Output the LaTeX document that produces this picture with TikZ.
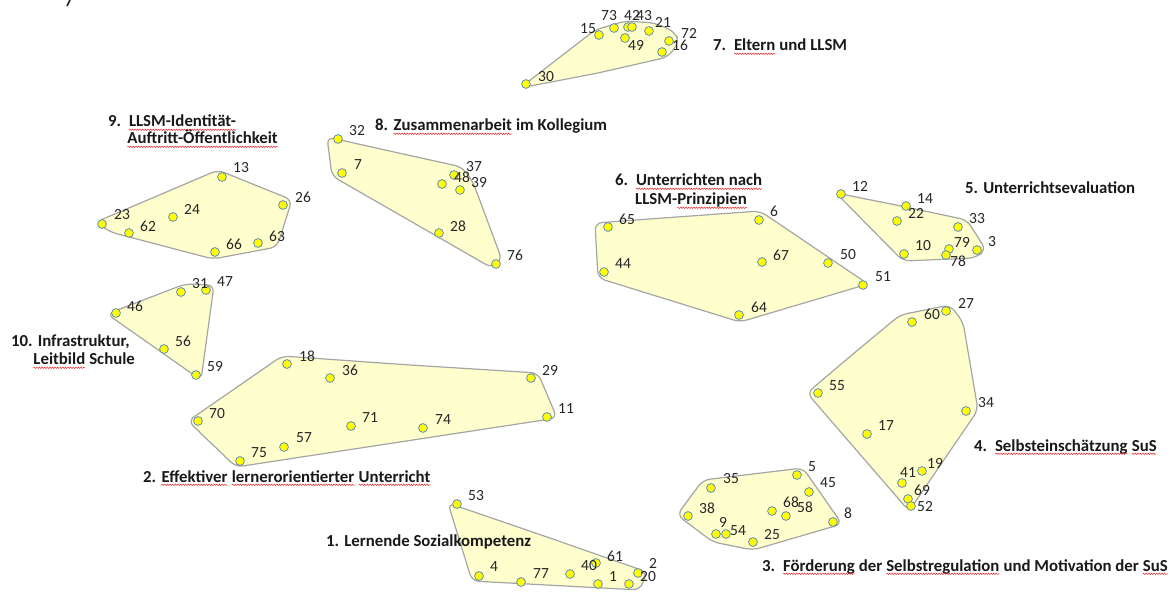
\documentclass[tikz,border=0pt]{standalone}
\usepackage{fontspec}
\setmainfont{Carlito}
\usetikzlibrary{decorations.pathmorphing}
\definecolor{hullfill}{RGB}{255,255,206}
\definecolor{hullline}{RGB}{165,165,165}
\definecolor{dotfill}{RGB}{255,255,0}
\definecolor{dotline}{RGB}{95,140,185}
\definecolor{spellred}{RGB}{230,40,40}
\newcommand\labfont{\fontsize{15.5}{18}\selectfont}
\newcommand\ttlfont{\fontsize{16.8}{19}\selectfont\bfseries}
\newcommand\wavy[1]{\tikz[baseline=(w.base)]{\node[inner sep=0pt,outer sep=0pt,anchor=base west] (w) at (0,0) {#1};\draw[spellred,line width=0.5pt,decorate,decoration={snake,amplitude=0.7pt,segment length=2.6pt}] ([yshift=-2.8pt]w.base west) -- ([yshift=-2.8pt]w.base east);}}
\tikzset{
  hull/.style={fill=hullfill,draw=hullline,line width=1.2pt,rounded corners=7pt},
  dot/.style={circle,inner sep=0pt,minimum size=8.8pt,fill=dotfill,draw=dotline,line width=0.8pt},
  lab/.style={inner sep=0pt,font=\labfont,text=black!85},
  ttl/.style={inner sep=0pt,anchor=base west,font=\ttlfont,text=black!90}
}
\begin{document}
\begin{tikzpicture}[x=1pt,y=-1pt]
\useasboundingbox (0,0) rectangle (1176,612);
% fragment at top-left
\draw[line width=1.6pt,black!85] (70,0) -- (67,6);
% hulls
\draw[hull] (598,73) -- (520,88) -- (595,30) -- (625,21) -- (655,23) -- (675,32) -- (679,42) -- (668,57) -- cycle;
\draw[hull] (157,196) -- (218,170) -- (292,200) -- (277,247) -- (213,259) -- (110,232) -- (96,222) -- cycle;
\draw[hull] (394,152) -- (462,167) -- (473,182) -- (502,260) -- (492,268) -- (332,176) -- (327,137) -- cycle;
\draw[hull] (677,217) -- (760,211) -- (868,284) -- (740,322) -- (598,278) -- (595,223) -- cycle;
\draw[hull] (901,206) -- (967,220) -- (986,250) -- (975,258) -- (903,261) -- (836,193) -- cycle;
\draw[hull] (146,299) -- (185,284) -- (214,285) -- (201,380) -- (107,314) -- cycle;
\draw[hull] (410,365) -- (538,373) -- (557,418) -- (236,467) -- (188,421) -- (282,356) -- cycle;
\draw[hull] (853,354) -- (900,315) -- (950,305) -- (963,322) -- (978,410) -- (909,511) -- (807,393) -- cycle;
\draw[hull] (753,474) -- (803,468) -- (842,524) -- (753,550) -- (713,542) -- (677,515) -- (703,480) -- cycle;
\draw[hull] (547,537) -- (647,572) -- (640,590) -- (472,581) -- (448,503) -- cycle;
% dots
\foreach \n/\x/\y in {15/599/35,73/614/28,42/628/27,43/632/27,21/649/31,72/669/41,16/662/52,49/625/38,30/526/84,
 13/222/177,26/283/205,23/102/224,62/129/233,24/173/217,66/215/252,63/258/243,
 32/338/139,7/342/173,37/454/175,48/442/184,39/460/190,28/439/233,76/496/264,
 65/608/227,6/759/220,44/604/272,67/762/262,50/828/263,51/863/285,64/739/315,
 12/841/194,14/906/206,22/897/221,33/958/227,10/904/254,79/949/249,78/946/255,3/977/250,
 31/181/292,47/206/290,46/116/313,56/164/349,59/196/375,
 18/287/364,36/330/378,29/531/378,11/547/417,70/198/421,71/351/426,74/423/428,57/284/447,75/240/461,
 27/946/311,60/912/322,55/818/393,34/966/411,17/867/434,19/922/471,41/902/483,69/908/499,52/911/506,
 5/797/475,35/711/488,45/809/492,38/688/516,68/772/511,58/786/516,8/833/522,9/716/534,54/726/534,25/753/542,
 53/457/504,4/479/576,77/521/582,40/570/574,61/596/563,1/598/584,2/638/573,20/629/584}
 {\node[dot] (d\n) at (\x,\y) {};}
% labels
\foreach \n/\x/\y in {15/588/29,73/609/16,42/632/15,43/644/16,21/663/22,72/689/33,16/680/45,49/636/45,30/546/77,
 13/241/168,26/303/197,23/122/215,62/148/226,24/192/209,66/234/244,63/277/236,
 32/357/131,7/358/165,37/474/167,48/462/177,39/479/183,28/458/226,76/515/255,
 65/627/219,6/774/211,44/623/264,67/781/255,50/848/255,51/883/277,64/759/307,
 12/860/186,14/925/199,22/916/213,33/977/219,10/923/246,79/962/242,78/958/261,3/992/242,
 31/200/284,47/225/282,46/135/306,56/183/341,59/215/367,
 18/307/356,36/350/370,29/550/370,11/566/409,70/217/414,71/370/418,74/443/420,57/304/438,75/259/453,
 27/966/303,60/932/314,55/837/386,34/986/403,17/886/426,19/935/463,41/908/473,69/922/490,52/925/507,
 5/812/467,35/731/479,45/828/483,38/707/508,68/791/502,58/805/507,8/848/513,9/723/522,54/738/531,25/772/535,
 53/476/496,4/494/567,77/541/574,40/589/566,61/615/556,1/613/577,2/653/563,20/648/577}
 {\node[lab] (l\n) at (\x,\y) {\n};}
% titles
\node[ttl] (t1) at (326,546) {1. Lernende Sozialkompetenz};
\node[ttl] (t2) at (143,482) {2. \wavy{Effektiver} \wavy{lernerorientierter} \wavy{Unterricht}};
\node[ttl] (t3) at (762,571) {3.\hspace{0.45em}\wavy{Förderung} der \wavy{Selbstregulation} und Motivation der \wavy{SuS}};
\node[ttl] (t4) at (974,451) {4.\hspace{0.45em}\wavy{Selbsteinschätzung} \wavy{SuS}};
\node[ttl] (t5) at (965,194) {5. Unterrichtsevaluation};
\node[ttl] (t6a) at (615,186) {6.\hspace{0.45em}\wavy{Unterrichten nach}};
\node[ttl] (t6b) at (635,205) {LLSM-\wavy{Prinzipien}};
\node[ttl] (t7) at (713,51) {7.\hspace{0.45em}\wavy{Eltern} und LLSM};
\node[ttl] (t8) at (375,131) {8. \wavy{Zusammenarbeit} im Kollegium};
\node[ttl] (t9a) at (108,127) {9.\hspace{0.45em}\wavy{LLSM-Identität-}};
\node[ttl] (t9b) at (127,144) {\wavy{Auftritt-Öffentlichkeit}};
\node[ttl] (t10a) at (11,347) {10. Infrastruktur,};
\node[ttl] (t10b) at (33,365) {\wavy{Leitbild} Schule};
\end{tikzpicture}
\end{document}
